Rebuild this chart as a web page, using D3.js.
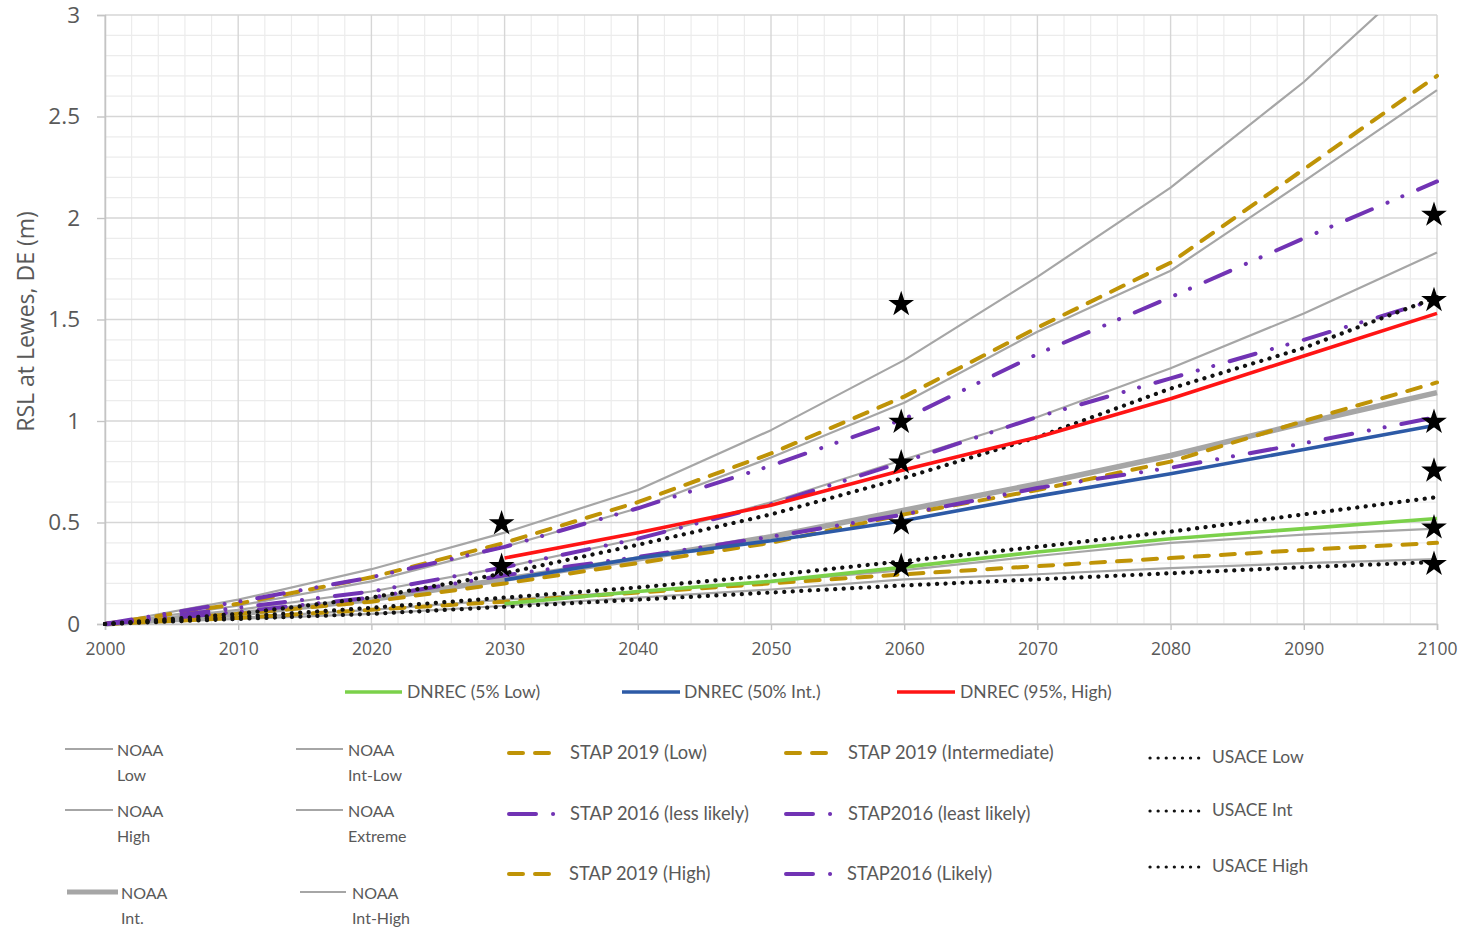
<!DOCTYPE html>
<html>
<head>
<meta charset="utf-8">
<script src="https://cdn.jsdelivr.net/npm/d3@7"></script>
<style>
  html, body { margin: 0; padding: 0; background: #ffffff; }
  svg { display: block; }
</style>
</head>
<body>
<svg id="chart" width="1466" height="932"></svg>
<script>
// Relative sea level projections for Lewes, DE (metres above 2000 level)
const years = [2000, 2010, 2020, 2030, 2040, 2050, 2060, 2070, 2080, 2090, 2100];

const noaaLow      = [0, 0.025, 0.05, 0.09, 0.13, 0.17, 0.22, 0.245, 0.275, 0.30, 0.32];
const noaaIntLow   = [0, 0.03, 0.07, 0.12, 0.16, 0.21, 0.265, 0.335, 0.40, 0.44, 0.47];
const noaaInt      = [0, 0.05, 0.12, 0.22, 0.32, 0.43, 0.56, 0.69, 0.83, 0.99, 1.14];
const noaaIntHigh  = [0, 0.07, 0.16, 0.28, 0.42, 0.60, 0.81, 1.02, 1.26, 1.53, 1.83];
const noaaHigh     = [0, 0.09, 0.21, 0.38, 0.57, 0.82, 1.09, 1.44, 1.74, 2.18, 2.63];
const noaaExtreme  = [0, 0.12, 0.27, 0.45, 0.66, 0.955, 1.30, 1.71, 2.15, 2.67, 3.27];

const stap2019Low  = [0, 0.03, 0.07, 0.11, 0.155, 0.20, 0.245, 0.285, 0.325, 0.365, 0.40];
const stap2019Int  = [0, 0.05, 0.11, 0.20, 0.30, 0.40, 0.54, 0.66, 0.80, 1.00, 1.19];
const stap2019High = [0, 0.10, 0.23, 0.40, 0.60, 0.84, 1.12, 1.46, 1.78, 2.24, 2.70];

const stap2016Likely      = [0, 0.06, 0.13, 0.24, 0.33, 0.43, 0.54, 0.67, 0.77, 0.89, 1.02];
const stap2016LessLikely  = [0, 0.08, 0.16, 0.28, 0.42, 0.59, 0.80, 1.02, 1.21, 1.40, 1.60];
const stap2016LeastLikely = [0, 0.11, 0.23, 0.38, 0.57, 0.78, 1.01, 1.33, 1.61, 1.90, 2.18];

const usaceLow  = [0, 0.025, 0.05, 0.085, 0.12, 0.155, 0.19, 0.22, 0.25, 0.28, 0.305];
const usaceInt  = [0, 0.035, 0.08, 0.13, 0.18, 0.24, 0.31, 0.38, 0.455, 0.54, 0.625];
const usaceHigh = [0, 0.05, 0.13, 0.25, 0.39, 0.54, 0.72, 0.92, 1.16, 1.36, 1.61];

// DNREC scenarios begin in 2030
const dnrecLow  = [null, null, null, 0.10, 0.16, 0.21, 0.28, 0.355, 0.42, 0.47, 0.52];
const dnrecInt  = [null, null, null, 0.217, 0.325, 0.41, 0.51, 0.63, 0.74, 0.86, 0.98];
const dnrecHigh = [null, null, null, 0.325, 0.45, 0.585, 0.76, 0.92, 1.11, 1.32, 1.53];

// Planning targets marked with stars
const starYears  = [2030, 2030, 2060, 2060, 2060, 2060, 2060, 2100, 2100, 2100, 2100, 2100, 2100];
const starValues = [0.50, 0.29, 1.58, 1.00, 0.80, 0.50, 0.29, 2.02, 1.60, 1.00, 0.76, 0.48, 0.30];

const xTicks = [2000, 2010, 2020, 2030, 2040, 2050, 2060, 2070, 2080, 2090, 2100];
const yTicks = [0, 0.5, 1, 1.5, 2, 2.5, 3];
const yTickLabels = ["0", "0.5", "1", "1.5", "2", "2.5", "3"];

// ---- line styles ----
const GRAY = "#a6a6a6", GOLD = "#bf9306", PURPLE = "#7133b4";
const styleNoaa      = { stroke: GRAY, width: 2.2, dash: null, cap: "butt" };
const styleNoaaThick = { stroke: GRAY, width: 5.5, dash: null, cap: "butt" };
const styleStap2019  = { stroke: GOLD, width: 4, dash: "14,12", cap: "round" };
const styleStap2016  = { stroke: PURPLE, width: 4, dash: "27,17,0.1,16,0.1,17", cap: "round" };
const styleUsace     = { stroke: "#111111", width: 4.2, dash: "0.1,8.4", cap: "round" };
const styleGreen     = { stroke: "#7bd14a", width: 3.6, dash: null, cap: "butt" };
const styleBlue      = { stroke: "#2d5aa6", width: 3.6, dash: null, cap: "butt" };
const styleRed       = { stroke: "#ff1414", width: 3.6, dash: null, cap: "butt" };

// drawing order: NOAA, STAP, USACE, DNREC
const series = [
  { values: noaaLow, style: styleNoaa },
  { values: noaaIntLow, style: styleNoaa },
  { values: noaaInt, style: styleNoaaThick },
  { values: noaaIntHigh, style: styleNoaa },
  { values: noaaHigh, style: styleNoaa },
  { values: noaaExtreme, style: styleNoaa },
  { values: stap2019Low, style: styleStap2019 },
  { values: stap2019Int, style: styleStap2019 },
  { values: stap2019High, style: styleStap2019 },
  { values: stap2016Likely, style: styleStap2016 },
  { values: stap2016LessLikely, style: styleStap2016 },
  { values: stap2016LeastLikely, style: styleStap2016 },
  { values: usaceLow, style: styleUsace },
  { values: usaceInt, style: styleUsace },
  { values: usaceHigh, style: styleUsace },
  { values: dnrecLow, style: styleGreen },
  { values: dnrecInt, style: styleBlue },
  { values: dnrecHigh, style: styleRed }
];

const svg = d3.select("#chart");
const plot = { left: 105, right: 1437, top: 15, bottom: 624 };

const x = d3.scaleLinear().domain([2000, 2100]).range([plot.left, plot.right]);
const y = d3.scaleLinear().domain([0, 3]).range([plot.bottom, plot.top]);

// ---- gridlines ----
const grid = svg.append("g");
const minorX = d3.range(2000, 2101, 2).filter(v => v % 10 !== 0);
const minorY = d3.range(0, 31, 1).map(v => v / 10).filter(v => Math.round(v * 10) % 5 !== 0);

grid.selectAll("line.mx").data(minorX).join("line")
  .attr("class", "mx")
  .attr("x1", d => x(d)).attr("x2", d => x(d))
  .attr("y1", plot.top).attr("y2", plot.bottom)
  .attr("stroke", "#ececec").attr("stroke-width", 1.2);
grid.selectAll("line.my").data(minorY).join("line")
  .attr("class", "my")
  .attr("x1", plot.left).attr("x2", plot.right)
  .attr("y1", d => y(d)).attr("y2", d => y(d))
  .attr("stroke", "#ececec").attr("stroke-width", 1.2);
grid.selectAll("line.Mx").data(xTicks).join("line")
  .attr("class", "Mx")
  .attr("x1", d => x(d)).attr("x2", d => x(d))
  .attr("y1", plot.top).attr("y2", plot.bottom)
  .attr("stroke", "#d6d6d6").attr("stroke-width", 1.4);
grid.selectAll("line.My").data(yTicks).join("line")
  .attr("class", "My")
  .attr("x1", plot.left).attr("x2", plot.right)
  .attr("y1", d => y(d)).attr("y2", d => y(d))
  .attr("stroke", "#d6d6d6").attr("stroke-width", 1.4);

// ---- axes ----
const xAxis = svg.append("g")
  .attr("transform", `translate(0,${plot.bottom})`)
  .call(d3.axisBottom(x).tickValues(xTicks).tickFormat(d3.format("d")).tickSize(6).tickPadding(13));
const yAxis = svg.append("g")
  .attr("transform", `translate(${plot.left},0)`)
  .call(d3.axisLeft(y).tickValues(yTicks).tickFormat((d, i) => yTickLabels[i]).tickSize(8).tickPadding(17));

[xAxis, yAxis].forEach(a => {
  a.select(".domain").attr("stroke", "#c4c4c4").attr("stroke-width", 1.5);
  a.selectAll(".tick line").attr("stroke", "#c4c4c4").attr("stroke-width", 1.4);
  a.selectAll("text").attr("fill", "#595959").attr("font-family", "'Open Sans', sans-serif");
});
xAxis.selectAll("text").attr("font-size", 17.5);
yAxis.selectAll("text").attr("font-size", 22.5);

svg.append("text")
  .attr("transform", `translate(34,${(plot.top + plot.bottom) / 2 + 2}) rotate(-90)`)
  .attr("text-anchor", "middle")
  .attr("font-family", "'Open Sans', sans-serif")
  .attr("font-size", 23)
  .attr("fill", "#595959")
  .text("RSL at Lewes, DE (m)");

// ---- series ----
svg.append("defs").append("clipPath").attr("id", "plotClip")
  .append("rect")
  .attr("x", plot.left - 5).attr("y", plot.top)
  .attr("width", plot.right - plot.left + 10).attr("height", plot.bottom - plot.top + 5);

const line = d3.line()
  .defined(d => d[1] !== null)
  .x(d => x(d[0]))
  .y(d => y(d[1]));

const lines = svg.append("g").attr("clip-path", "url(#plotClip)");
series.forEach(s => {
  const pts = years.map((yr, i) => [yr, s.values[i]]);
  lines.append("path")
    .datum(pts)
    .attr("d", line)
    .attr("fill", "none")
    .attr("stroke", s.style.stroke)
    .attr("stroke-width", s.style.width)
    .attr("stroke-dasharray", s.style.dash)
    .attr("stroke-linecap", s.style.cap)
    .attr("stroke-linejoin", "round");
});

// ---- stars ----
const star = d3.symbol().type(d3.symbolStar).size(205);
svg.append("g").selectAll("path")
  .data(starYears.map((yr, i) => [yr, starValues[i]]))
  .join("path")
  .attr("transform", d => `translate(${x(d[0]) - 3},${y(d[1]) + 1})`)
  .attr("d", star)
  .attr("fill", "#000");

// ---- legend ----
const legend = svg.append("g")
  .attr("font-family", "Lato, 'Open Sans', sans-serif")
  .attr("fill", "#595959");

function legendLine(x1, x2, yy, st) {
  legend.append("line")
    .attr("x1", x1).attr("x2", x2).attr("y1", yy).attr("y2", yy)
    .attr("stroke", st.stroke)
    .attr("stroke-width", st === styleNoaaThick ? 5 : (st === styleNoaa ? 2 : st.width))
    .attr("stroke-dasharray", st.dash)
    .attr("stroke-linecap", st.cap);
}
function legendText(tx, ty, txt, size) {
  legend.append("text")
    .attr("x", tx).attr("y", ty)
    .attr("dy", "0.35em")
    .attr("font-size", size)
    .text(txt);
}

// DNREC row
const dnrecItems = [
  { x1: 345, x2: 402, tx: 407, label: "DNREC (5% Low)", st: styleGreen },
  { x1: 622, x2: 680, tx: 684, label: "DNREC (50% Int.)", st: styleBlue },
  { x1: 897, x2: 955, tx: 960, label: "DNREC (95%, High)", st: styleRed }
];
dnrecItems.forEach(d => {
  legendLine(d.x1, d.x2, 692, d.st);
  legendText(d.tx, 692, d.label, 17.5);
});

// NOAA block: two-line labels
const noaaItems = [
  { x1: 65, x2: 113, yy: 749, tx: 117, l1: "NOAA", l2: "Low", st: styleNoaa },
  { x1: 65, x2: 113, yy: 810, tx: 117, l1: "NOAA", l2: "High", st: styleNoaa },
  { x1: 67, x2: 118, yy: 892, tx: 121, l1: "NOAA", l2: "Int.", st: styleNoaaThick },
  { x1: 296, x2: 343, yy: 749, tx: 348, l1: "NOAA", l2: "Int-Low", st: styleNoaa },
  { x1: 296, x2: 343, yy: 810, tx: 348, l1: "NOAA", l2: "Extreme", st: styleNoaa },
  { x1: 300, x2: 346, yy: 892, tx: 352, l1: "NOAA", l2: "Int-High", st: styleNoaa }
];
noaaItems.forEach(d => {
  legendLine(d.x1, d.x2, d.yy, d.st);
  legendText(d.tx, d.yy + 1, d.l1, 16);
  legendText(d.tx, d.yy + 26, d.l2, 16);
});

// STAP block
const stapItems = [
  { x1: 509, x2: 553, yy: 753, tx: 570, label: "STAP 2019 (Low)", st: styleStap2019 },
  { x1: 509, x2: 556, yy: 814, tx: 570, label: "STAP 2016 (less likely)", st: styleStap2016 },
  { x1: 509, x2: 553, yy: 874, tx: 569, label: "STAP 2019 (High)", st: styleStap2019 },
  { x1: 786, x2: 830, yy: 753, tx: 848, label: "STAP 2019 (Intermediate)", st: styleStap2019 },
  { x1: 786, x2: 833, yy: 814, tx: 848, label: "STAP2016 (least likely)", st: styleStap2016 },
  { x1: 786, x2: 833, yy: 874, tx: 847, label: "STAP2016 (Likely)", st: styleStap2016 }
];
stapItems.forEach(d => {
  legendLine(d.x1, d.x2, d.yy, d.st);
  legendText(d.tx, d.yy, d.label, 18.3);
});

// USACE block
const usaceItems = [
  { yy: 758, label: "USACE Low" },
  { yy: 811, label: "USACE Int" },
  { yy: 867, label: "USACE High" }
];
usaceItems.forEach(d => {
  legendLine(1150, 1204, d.yy, { stroke: "#111111", width: 3.2, dash: "0.1,8", cap: "round" });
  legendText(1212, d.yy - 1, d.label, 17.5);
});
</script>
</body>
</html>
